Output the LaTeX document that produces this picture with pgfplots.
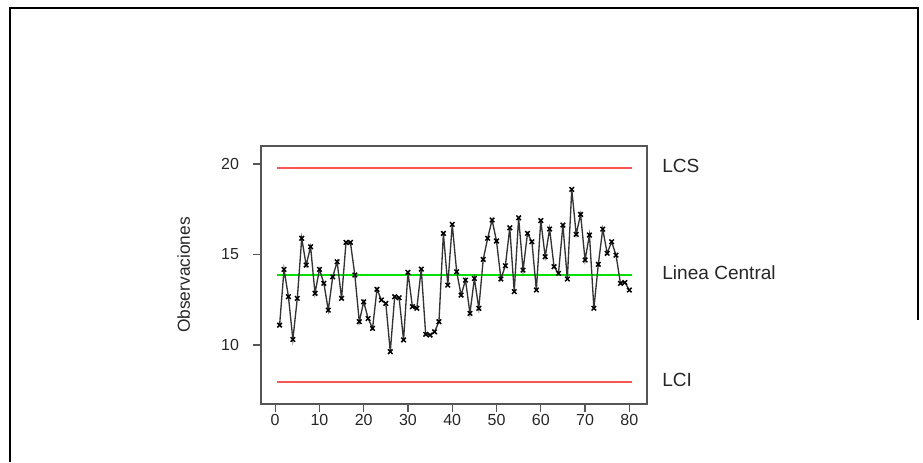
\documentclass[border=0pt]{standalone}
\usepackage{fontspec}
\setmainfont{Liberation Sans}
\usepackage{pgfplots}
\pgfplotsset{compat=1.18}

\definecolor{limred}{RGB}{250,85,85}
\definecolor{limgreen}{RGB}{0,225,0}
\definecolor{ejegris}{RGB}{85,85,85}

\begin{document}
\begin{tikzpicture}
\useasboundingbox (0,0) rectangle (692.25pt,346.5pt);
% marco exterior
\draw[black, line width=1.5pt] (7.5pt,0pt) -- (7.5pt,340.5pt) -- (688.5pt,340.5pt) -- (688.5pt,106.5pt);

\begin{axis}[
  at={(195.75pt,43.5pt)}, anchor=south west,
  scale only axis,
  width=289.5pt, height=193.5pt,
  xmin=-3.2, xmax=84.0,
  ymin=6.74, ymax=21.0,
  xtick={0,10,...,80},
  ytick={10,15,20},
  tick align=outside,
  tick pos=left,
  major tick length=6pt,
  axis line style={ejegris, line width=1.1pt},
  every tick/.style={ejegris, line width=1pt},
  /pgf/number format/assume math mode=true,
  tick label style={font=\fontsize{12}{14}\selectfont, color=black!85},
  yticklabel shift=7pt,
  xticklabel shift=-2pt,
  ylabel={Observaciones},
  every axis y label/.style={at={(axis description cs:-0.2,0.5)}, rotate=90, anchor=center,
    font=\fontsize{13}{15}\selectfont, color=black!85},
  clip=false,
]
\addplot[draw=limred, line width=1.5pt] coordinates {(0.5,19.78) (80.5,19.78)};
\addplot[draw=limred, line width=1.5pt] coordinates {(0.5,7.93) (80.5,7.93)};
\addplot[draw=limgreen, line width=1.4pt] coordinates {(0.5,13.85) (80.5,13.85)};

\addplot[black!80, line width=1pt, mark=x, mark size=2.4pt, mark options={line width=1.1pt, black}]
table {%
1 11.10
2 14.18
3 12.67
4 10.31
5 12.58
6 15.90
7 14.42
8 15.43
9 12.86
10 14.18
11 13.41
12 11.93
13 13.77
14 14.60
15 12.58
16 15.67
17 15.67
18 13.87
19 11.29
20 12.39
21 11.47
22 10.92
23 13.08
24 12.49
25 12.30
26 9.63
27 12.67
28 12.61
29 10.28
30 14.02
31 12.12
32 12.03
33 14.20
34 10.59
35 10.55
36 10.73
37 11.29
38 16.17
39 13.31
40 16.67
41 14.05
42 12.76
43 13.59
44 11.75
45 13.68
46 12.03
47 14.73
48 15.90
49 16.91
50 15.75
51 13.65
52 14.38
53 16.48
54 12.95
55 17.03
56 14.14
57 16.17
58 15.71
59 13.04
60 16.88
61 14.88
62 16.41
63 14.33
64 13.96
65 16.63
66 13.65
67 18.60
68 16.12
69 17.22
70 14.70
71 16.08
72 12.03
73 14.46
74 16.41
75 15.07
76 15.71
77 14.97
78 13.41
79 13.46
80 13.04
};

\node[anchor=west, font=\fontsize{14.3}{16}\selectfont, color=black!85] at (axis cs:86.4,19.88) {LCS};
\node[anchor=west, font=\fontsize{14.3}{16}\selectfont, color=black!85] at (axis cs:86.4,14.0) {Linea Central};
\node[anchor=west, font=\fontsize{14.3}{16}\selectfont, color=black!85] at (axis cs:86.4,8.05) {LCI};
\end{axis}
\end{tikzpicture}
\end{document}
